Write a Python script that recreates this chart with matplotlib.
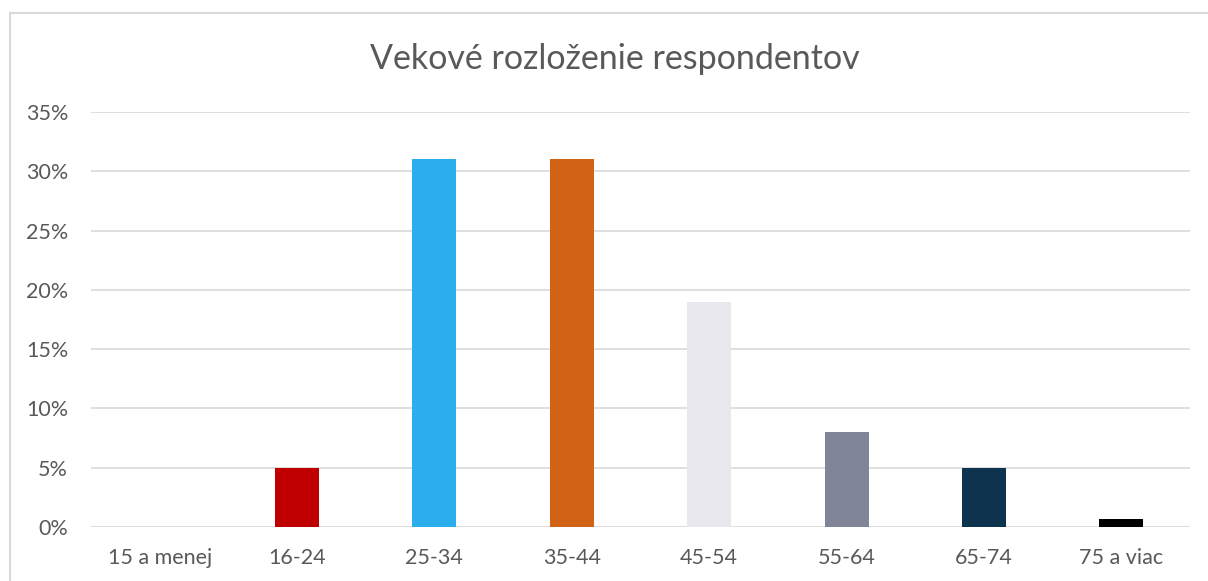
import matplotlib
matplotlib.use("Agg")
import matplotlib.pyplot as plt
from matplotlib.ticker import FuncFormatter
from matplotlib.patches import Rectangle

categories = ["15 a menej", "16-24", "25-34", "35-44", "45-54", "55-64", "65-74", "75 a viac"]
values = [0, 5, 31, 31, 19, 8, 5, 0.7]
colors = ["#4472C4", "#C00000", "#2BAEEE", "#D26215", "#E8E7EE", "#7F8499", "#0D334F", "#000000"]
title = "Vekové rozloženie respondentov"
yticks = [0, 5, 10, 15, 20, 25, 30, 35]

plt.rcParams['font.family'] = ['Lato', 'DejaVu Sans']

fig = plt.figure(figsize=(12.08, 5.81), dpi=100)
fig.patch.set_facecolor("white")

# outer chart border
fig.patches.append(Rectangle((10/1208, -0.01), 1.2, (581-13)/581 + 0.01,
                             transform=fig.transFigure, fill=False,
                             edgecolor="#D9D9D9", linewidth=1.5))

ax = fig.add_axes([91/1208, 1 - 527/581, (1190-91)/1208, (527-112)/581])
x = list(range(len(categories)))
ax.bar(x, values, width=0.32, color=colors, zorder=3)
ax.set_xlim(-0.5, len(categories) - 0.5)
ax.set_ylim(0, 35)
ax.set_yticks(yticks)
ax.yaxis.set_major_formatter(FuncFormatter(lambda v, p: f"{int(v)}%"))
ax.set_xticks(x)
ax.set_xticklabels(categories)
ax.grid(axis="y", color="#D9D9D9", linewidth=1.2, zorder=0)
for s in ax.spines.values():
    s.set_visible(False)
ax.tick_params(axis="both", length=0, labelsize=15.5, labelcolor="#595959")
ax.tick_params(axis="x", pad=15)
ax.tick_params(axis="y", pad=16.5)

fig.text(615/1208, 1 - 59/581, title, ha="center", va="center",
         fontsize=24.5, color="#595959")

fig.savefig("out.png", dpi=100, facecolor="white")
